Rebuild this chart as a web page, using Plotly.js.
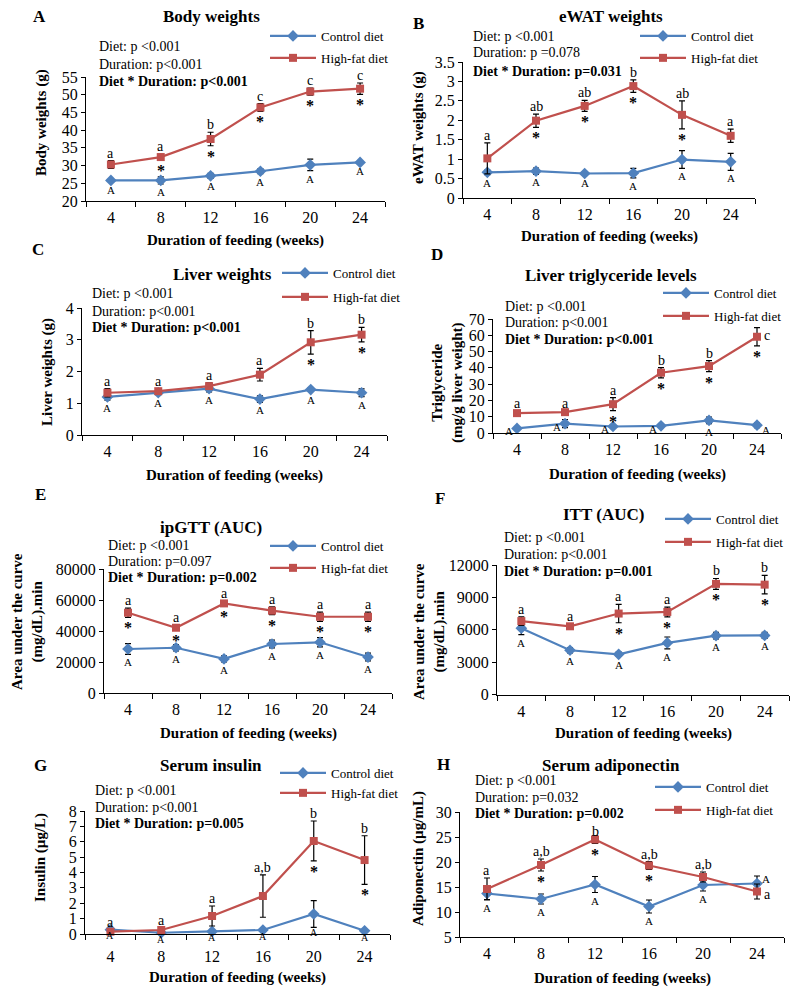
<!DOCTYPE html>
<html><head><meta charset="utf-8">
<script src="https://cdn.plot.ly/plotly-3.0.1.min.js"></script>
<style>body{margin:0;background:#fff}#chart{width:800px;height:996px}</style>
</head><body><div id="chart"></div>
<script>
// ---------- DATA ----------
const weeks = ['4', '8', '12', '16', '20', '24'];
const seriesNames = ['Control diet', 'High-fat diet'];
const xTitle = 'Duration of feeding (weeks)';

// A: Body weights (g)
const bwCtl = [25.8, 25.8, 27.1, 28.4, 30.2, 30.9];
const bwCtlErr = [0.4, 1.0, 0.7, 0.7, 1.6, 0.3];
const bwHf = [30.3, 32.4, 37.5, 46.4, 50.9, 51.7];
const bwHfErr = [1.1, 0.8, 1.9, 1.1, 1.0, 1.6];
const bwHfLetters = ['a', 'a', 'b', 'c', 'c', 'c'];
const bwHfStars = ['', '*', '*', '*', '*', '*'];
const bwCtlLetters = ['A', 'A', 'A', 'A', 'A', 'A'];
const bwStats = ['Diet: p <0.001', 'Duration: p<0.001', 'Diet * Duration: p<0.001'];

// B: eWAT weights (g)
const ewCtl = [0.66, 0.69, 0.63, 0.64, 0.99, 0.93];
const ewCtlErr = [0.06, 0.08, 0.03, 0.12, 0.23, 0.22];
const ewHf = [1.02, 1.99, 2.37, 2.88, 2.14, 1.60];
const ewHfErr = [0.40, 0.17, 0.14, 0.16, 0.36, 0.17];
const ewHfLetters = ['a', 'ab', 'ab', 'b', 'ab', 'a'];
const ewHfStars = ['', '*', '*', '*', '*', ''];
const ewCtlLetters = ['A', 'A', 'A', 'A', 'A', 'A'];
const ewStats = ['Diet: p <0.001', 'Duration: p =0.078', 'Diet * Duration: p=0.031'];

// C: Liver weights (g)
const lwCtl = [1.20, 1.33, 1.46, 1.13, 1.43, 1.33];
const lwCtlErr = [0.10, 0.06, 0.10, 0.10, 0.06, 0.12];
const lwHf = [1.33, 1.38, 1.54, 1.90, 2.92, 3.16];
const lwHfErr = [0.13, 0.08, 0.10, 0.20, 0.37, 0.23];
const lwHfLetters = ['a', 'a', 'a', 'a', 'b', 'b'];
const lwHfStars = ['', '', '', '', '*', '*'];
const lwCtlLetters = ['A', 'A', 'A', 'A', 'A', 'A'];
const lwStats = ['Diet: p <0.001', 'Duration: p<0.001', 'Diet * Duration: p<0.001'];

// D: Liver triglyceride (mg/g liver weight)
const tgCtl = [2.8, 5.8, 4.0, 4.4, 7.7, 4.8];
const tgCtlErr = [1.0, 2.5, 0.6, 0.8, 2.0, 1.5];
const tgHf = [12.2, 12.8, 17.7, 37.0, 41.1, 59.1];
const tgHfErr = [1.5, 1.0, 4.0, 3.2, 3.4, 5.6];
const tgHfLetters = ['a', 'a', 'a', 'b', 'b', 'c'];
const tgHfStars = ['', '', '*', '*', '*', '*'];
const tgCtlLetters = ['A', 'A', 'A', 'A', 'A', 'A'];
const tgStats = ['Diet: p <0.001', 'Duration: p<0.001', 'Diet * Duration: p<0.001'];

// E: ipGTT AUC
const gtCtl = [28400, 29200, 22000, 31600, 32700, 23200];
const gtCtlErr = [3500, 2000, 2000, 2500, 3000, 2500];
const gtHf = [51800, 42100, 57800, 53100, 49200, 49200];
const gtHfErr = [3000, 1500, 1500, 2500, 3000, 3000];
const gtHfLetters = ['a', 'a', 'a', 'a', 'a', 'a'];
const gtHfStars = ['*', '*', '*', '*', '*', '*'];
const gtCtlLetters = ['A', 'A', 'A', 'A', 'A', 'A'];
const gtStats = ['Diet: p <0.001', 'Duration: p=0.097', 'Diet * Duration: p=0.002'];

// F: ITT AUC
const itCtl = [6150, 4100, 3720, 4780, 5450, 5470];
const itCtlErr = [600, 250, 200, 550, 300, 280];
const itHf = [6800, 6320, 7500, 7650, 10250, 10180];
const itHfErr = [400, 200, 850, 450, 500, 850];
const itHfLetters = ['a', 'a', 'a', 'a', 'b', 'b'];
const itHfStars = ['', '', '*', '*', '*', '*'];
const itCtlLetters = ['A', 'A', 'A', 'A', 'A', 'A'];
const itStats = ['Diet: p <0.001', 'Duration: p<0.001', 'Diet * Duration: p=0.001'];

// G: Serum insulin (µg/L)
const inCtl = [0.28, 0.08, 0.17, 0.26, 1.30, 0.21];
const inCtlErr = [0.05, 0.05, 0.05, 0.05, 0.87, 0.05];
const inHf = [0.15, 0.26, 1.17, 2.47, 6.05, 4.81];
const inHfErr = [0.10, 0.10, 0.65, 1.38, 1.30, 1.58];
const inHfLetters = ['a', 'a', 'a', 'a,b', 'b', 'b'];
const inHfStars = ['', '', '', '', '*', '*'];
const inCtlLetters = ['A', 'A', 'A', 'A', 'A', 'A'];
const inStats = ['Diet: p <0.001', 'Duration: p<0.001', 'Diet * Duration: p=0.005'];

// H: Serum adiponectin (µg/mL)
const adCtl = [13.7, 12.6, 15.5, 11.1, 15.4, 15.7];
const adCtlErr = [1.2, 1.0, 1.6, 1.3, 1.2, 1.5];
const adHf = [14.6, 19.4, 24.5, 19.3, 17.0, 14.1];
const adHfErr = [2.2, 1.2, 0.8, 0.8, 1.0, 1.5];
const adHfLetters = ['a', 'a,b', 'b', 'a,b', 'a,b', 'a'];
const adHfStars = ['', '*', '*', '*', '', ''];
const adCtlLetters = ['A', 'A', 'A', 'A', 'A', 'A'];
const adStats = ['Diet: p <0.001', 'Duration: p=0.032', 'Diet * Duration: p=0.002'];

// ---------- PANEL LAYOUT / STYLE ----------
const panels = [
  {tag: 'A', title: 'Body weights', ytitle: 'Body weights (g)', stats: bwStats,
   ctl: bwCtl, ctlErr: bwCtlErr, hf: bwHf, hfErr: bwHfErr, hfLet: bwHfLetters, hfStar: bwHfStars, ctlLet: bwCtlLetters,
   yr: [20, 55], dt: 5, box: [86, 385, 77, 201], tagP: [39, 17], titleP: [211, 17], statsX: 97, statsY: [46, 64, 81],
   leg: [270, 36, 58], ytP: [42, 123], xtY: 240},
  {tag: 'B', title: 'eWAT weights', ytitle: 'eWAT weights (g)', stats: ewStats,
   ctl: ewCtl, ctlErr: ewCtlErr, hf: ewHf, hfErr: ewHfErr, hfLet: ewHfLetters, hfStar: ewHfStars, ctlLet: ewCtlLetters,
   yr: [0, 3.5], dt: 0.5, box: [463, 755, 62, 198], tagP: [418, 24], titleP: [611, 17], statsX: 471, statsY: [36, 53, 71],
   leg: [640, 36, 58], ytP: [418, 128], xtY: 237},
  {tag: 'C', title: 'Liver weights', ytitle: 'Liver weights (g)', stats: lwStats,
   ctl: lwCtl, ctlErr: lwCtlErr, hf: lwHf, hfErr: lwHfErr, hfLet: lwHfLetters, hfStar: lwHfStars, ctlLet: lwCtlLetters,
   yr: [0, 4], dt: 1, box: [82, 387, 308, 435], tagP: [38, 249], titleP: [222, 274], statsX: 90, statsY: [293, 311, 327],
   leg: [282, 273, 297], ytP: [47, 372], xtY: 476},
  {tag: 'D', title: 'Liver triglyceride levels', ytitle: 'Triglyceride<br>(mg/g liver weight)', stats: tgStats,
   ctl: tgCtl, ctlErr: tgCtlErr, hf: tgHf, hfErr: tgHfErr, hfLet: tgHfLetters, hfStar: tgHfStars, ctlLet: tgCtlLetters,
   yr: [0, 70], dt: 10, box: [493, 781, 319, 433], tagP: [437, 254], titleP: [611, 275], statsX: 503, statsY: [306, 322, 339],
   leg: [663, 293, 316], ytP: [447, 383], xtY: 475, ctlRightShift: -5,
   hfPos: ['up', 'up', 'up', 'up', 'up', 'right'], ctlPos: ['left', 'left', 'left', 'left', 'below', 'right']},
  {tag: 'E', title: 'ipGTT (AUC)', ytitle: 'Area under the curve<br>(mg/dL).min', stats: gtStats,
   ctl: gtCtl, ctlErr: gtCtlErr, hf: gtHf, hfErr: gtHfErr, hfLet: gtHfLetters, hfStar: gtHfStars, ctlLet: gtCtlLetters,
   yr: [0, 80000], dt: 20000, box: [104, 392, 569, 693], tagP: [40, 495], titleP: [211, 527], statsX: 106, statsY: [545, 561, 577],
   leg: [270, 546, 568], ytP: [27, 622], xtY: 733},
  {tag: 'F', title: 'ITT (AUC)', ytitle: 'Area under the curve<br>(mg/dL).min', stats: itStats,
   ctl: itCtl, ctlErr: itCtlErr, hf: itHf, hfErr: itHfErr, hfLet: itHfLetters, hfStar: itHfStars, ctlLet: itCtlLetters,
   yr: [0, 12000], dt: 3000, box: [497, 789, 565, 694.5], tagP: [440, 498], titleP: [603, 514], statsX: 502, statsY: [537, 554, 571],
   leg: [665, 519, 542], ytP: [429, 632], xtY: 733},
  {tag: 'G', title: 'Serum insulin', ytitle: 'Insulin (µg/L)', stats: inStats,
   ctl: inCtl, ctlErr: inCtlErr, hf: inHf, hfErr: inHfErr, hfLet: inHfLetters, hfStar: inHfStars, ctlLet: inCtlLetters,
   yr: [0, 8], dt: 1, box: [85, 390, 811, 934], tagP: [40, 765], titleP: [211, 765], statsX: 93, statsY: [790, 807, 823],
   leg: [280, 773, 793], ytP: [40, 858], xtY: 977, xStandoff: 8, ctlSize: 10, ctlShift: 2},
  {tag: 'H', title: 'Serum adiponectin', ytitle: 'Adiponectin (µg/mL)', stats: adStats,
   ctl: adCtl, ctlErr: adCtlErr, hf: adHf, hfErr: adHfErr, hfLet: adHfLetters, hfStar: adHfStars, ctlLet: adCtlLetters,
   yr: [5, 30], dt: 5, box: [460, 784, 812, 937], tagP: [443, 764], titleP: [611, 765], statsX: 473, statsY: [780, 797, 813],
   leg: [655, 787, 810], ytP: [418, 859], xtY: 978, ctlRightShift: 5, hfRightShift: -3, hfUpShiftAt: {2: -5},
   hfPos: ['up', 'up', 'up', 'up', 'up', 'right'], ctlPos: ['below', 'below', 'below', 'below', 'below', 'right']}
];

const W = 800, H = 996;
const FONT = "'Liberation Serif', 'Times New Roman', serif";
const BLUE = '#4F81BD', RED = '#C0504D';
const px = x => x / W;
const py = y => 1 - y / H;

const traces = [];
const annotations = [];
const layout = {
  width: W, height: H, margin: {l: 0, r: 0, t: 0, b: 0},
  paper_bgcolor: 'white', plot_bgcolor: 'rgba(0,0,0,0)',
  font: {family: FONT, color: 'black'}, showlegend: true, annotations: annotations
};

function txt(x, y, text, size, opts) {
  return Object.assign({xref: 'paper', yref: 'paper', x: px(x), y: py(y), text: text, showarrow: false,
    xanchor: 'center', yanchor: 'middle', font: {family: FONT, size: size, color: 'black'}}, opts || {});
}

panels.forEach((p, k) => {
  const n = k === 0 ? '' : String(k + 1);
  const xa = 'x' + n, ya = 'y' + n, leg = 'legend' + n;
  const [x0, x1, yt, yb] = p.box;
  layout['xaxis' + n] = {
    domain: [px(x0), px(x1)], anchor: ya, type: 'category', range: [-0.5, 5.5],
    tickson: 'boundaries', ticks: 'outside', ticklen: 5, tickcolor: 'black', tickwidth: 1,
    ticklabelstandoff: p.xStandoff || 2,
    showline: true, linecolor: 'black', linewidth: 1, showgrid: false, zeroline: false,
    tickfont: {family: FONT, size: 16, color: 'black'}, fixedrange: true
  };
  layout['yaxis' + n] = {
    domain: [py(yb), py(yt)], anchor: xa, range: p.yr, tick0: p.yr[0], dtick: p.dt,
    ticks: 'outside', ticklen: 4, tickcolor: 'black', tickwidth: 1, tickformat: p.dt >= 1000 ? 'd' : '',
    showline: true, linecolor: 'black', linewidth: 1, showgrid: false, zeroline: false,
    tickfont: {family: FONT, size: 16, color: 'black'}, fixedrange: true
  };
  layout[leg] = {
    x: px(p.leg[0] - 5), xanchor: 'left', y: py((p.leg[1] + p.leg[2]) / 2), yanchor: 'middle',
    tracegroupgap: Math.max(0, p.leg[2] - p.leg[1] - 20), bgcolor: 'rgba(0,0,0,0)', borderwidth: 0,
    itemwidth: 46, font: {family: FONT, size: 13, color: 'black'}
  };
  const eb = arr => ({type: 'data', array: arr, visible: true, color: 'black', thickness: 1.2, width: 3});
  traces.push({
    x: weeks, y: p.ctl, error_y: eb(p.ctlErr), name: seriesNames[0], legend: leg, legendgroup: 'c' + k,
    xaxis: xa, yaxis: ya, mode: 'lines+markers', cliponaxis: false,
    line: {color: BLUE, width: 2.2}, marker: {symbol: 'diamond', size: 9, color: BLUE}
  });
  traces.push({
    x: weeks, y: p.hf, error_y: eb(p.hfErr), name: seriesNames[1], legend: leg, legendgroup: 'h' + k,
    xaxis: xa, yaxis: ya, mode: 'lines+markers', cliponaxis: false,
    line: {color: RED, width: 2.2}, marker: {symbol: 'square', size: 8, color: RED}
  });

  // text elements
  annotations.push(txt(p.tagP[0], p.tagP[1], '<b>' + p.tag + '</b>', 17));
  annotations.push(txt(p.titleP[0], p.titleP[1], '<b>' + p.title + '</b>', 17));
  p.stats.forEach((s, i) => annotations.push(txt(p.statsX, p.statsY[i], i === 2 ? '<b>' + s + '</b>' : s, 14, {xanchor: 'left'})));
  annotations.push(txt(p.ytP[0], p.ytP[1], '<b>' + p.ytitle + '</b>', 15, {textangle: -90}));
  annotations.push(txt((x0 + x1) / 2, p.xtY, '<b>' + xTitle + '</b>', 15));

  // significance letters (x given as category index on the category axis)
  weeks.forEach((w, i) => {
    const base = {xref: xa, yref: ya, x: i, showarrow: false, font: {family: FONT, size: 14, color: 'black'}};
    const hp = p.hfPos ? p.hfPos[i] : 'up';
    if (hp === 'right') {
      annotations.push(Object.assign({}, base, {y: p.hf[i], text: p.hfLet[i], xanchor: 'left', yanchor: 'middle', xshift: 5, yshift: p.hfRightShift || 1}));
    } else {
      const us = (p.hfUpShiftAt && p.hfUpShiftAt[i] !== undefined) ? p.hfUpShiftAt[i] : -2;
      annotations.push(Object.assign({}, base, {y: p.hf[i] + p.hfErr[i], text: p.hfLet[i], xanchor: 'center', yanchor: 'bottom', yshift: us}));
    }
    if (p.hfStar[i]) {
      annotations.push(Object.assign({}, base, {y: p.hf[i] - p.hfErr[i], text: '<b>' + p.hfStar[i] + '</b>', xanchor: 'center', yanchor: 'top', yshift: 0,
        font: {family: FONT, size: 16, color: 'black'}}));
    }
    const cp = p.ctlPos ? p.ctlPos[i] : 'below';
    const cf = {family: FONT, size: p.ctlSize || 11, color: 'black'};
    if (cp === 'left') {
      annotations.push(Object.assign({}, base, {y: p.ctl[i], text: p.ctlLet[i], xanchor: 'right', yanchor: 'middle', xshift: -2, yshift: -3, font: cf}));
    } else if (cp === 'right') {
      annotations.push(Object.assign({}, base, {y: p.ctl[i], text: p.ctlLet[i], xanchor: 'left', yanchor: 'middle', xshift: 3, yshift: p.ctlRightShift || 0, font: cf}));
    } else {
      annotations.push(Object.assign({}, base, {y: p.ctl[i] - p.ctlErr[i], text: p.ctlLet[i], xanchor: 'center', yanchor: 'top', yshift: p.ctlShift || 0, font: cf}));
    }
  });
});

Plotly.newPlot('chart', traces, layout, {displayModeBar: false, staticPlot: true});
</script>
</body></html>
